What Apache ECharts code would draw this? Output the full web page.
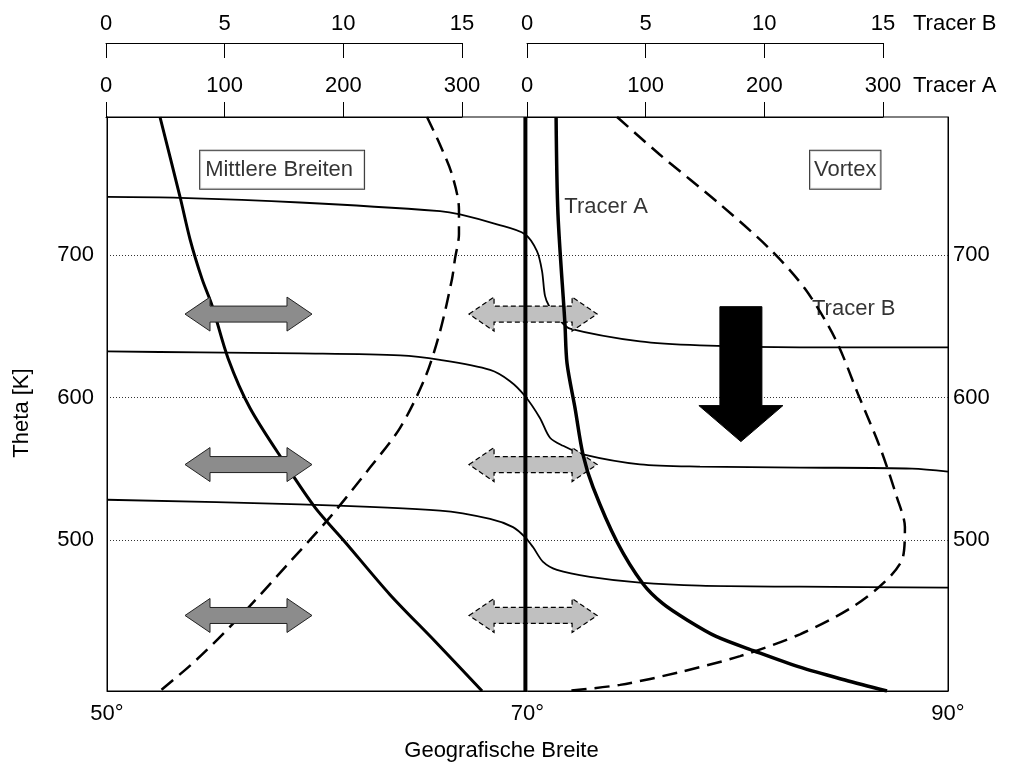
<!DOCTYPE html>
<html><head><meta charset="utf-8">
<script src="https://cdn.jsdelivr.net/npm/echarts@6/dist/echarts.min.js"></script>
<style>html,body{margin:0;padding:0;background:#fff}#c{width:1009px;height:767px}</style>
</head><body><div id="c"></div>
<script>
// ---- data ----
const latTicks = [50, 70, 90];
const thetaTicks = [500, 600, 700];
const thetaRange = [394.2, 797.0];
const tracerATicks = [0, 100, 200, 300];
const tracerBTicks = [0, 5, 10, 15];

// mid-latitude tracer A profile (thick solid)
const midTracerA = [[52.52,797.0],[53.47,741.2],[53.95,711.2],[54.52,683.4],[55.00,664.6],[55.76,627.6],[56.80,592.8],[58.47,553.8],[59.89,523.1],[61.32,498.8],[63.46,461.8],[65.60,429.1],[67.84,394.2]];
// mid-latitude tracer B profile (dashed)
const midTracerB = [[65.22,797.0],[65.84,777.5],[66.41,756.6],[66.74,732.2],[66.74,714.8],[66.55,697.4],[66.41,683.4],[65.84,646.5],[65.12,613.7],[63.94,578.9],[62.51,551.0],[60.61,516.2],[58.70,484.8],[56.33,446.5],[54.19,415.2],[52.52,394.2]];
// vortex edge
const vortexEdge = [[69.9,394.2],[69.9,797.0]];
// vortex tracer A profile (thick solid)
const vortexTracerA = [[71.36,797.0],[71.45,728.7],[71.78,652.1],[71.88,624.2],[72.26,592.8],[72.64,560.1],[73.12,537.1],[74.26,498.8],[75.49,469.5],[76.44,455.5],[77.63,443.7],[78.97,432.5],[80.82,422.1],[82.96,410.9],[85.10,401.9],[87.10,394.2]];
// vortex tracer B profile (dashed)
const vortexTracerB = [[74.26,797.0],[76.30,770.5],[79.16,735.7],[81.53,704.3],[83.20,676.4],[84.63,641.6],[85.72,602.6],[86.77,565.0],[87.57,530.1],[87.95,509.2],[87.86,488.3],[87.00,470.9],[85.34,452.1],[82.96,434.0],[80.11,418.7],[77.25,407.5],[74.40,398.5],[71.88,394.2]];
// isentropes
const isentropeUpper = [[50,740.9],[53.47,740.3],[59.18,737.0],[65.84,731.0],[66.79,728.7],[68.55,721.7],[69.88,714.8],[70.45,702.9],[70.69,689.0],[70.83,671.6],[71.02,664.6],[71.55,654.1],[72.02,648.5],[75.35,639.5],[78.20,636.7],[82.96,635.3],[90,635.3]];
const isentropeMiddle = [[50,632.5],[54.42,631.8],[59.18,631.1],[63.94,629.7],[65.84,626.5],[68.22,619.5],[69.17,611.6],[69.88,601.2],[70.59,585.8],[71.07,571.9],[71.69,566.3],[72.64,560.3],[75.35,553.3],[78.20,551.7],[82.96,551.0],[88.29,550.3],[90,548.2]];
const isentropeLower = [[50,528.4],[59.18,525.2],[65.84,520.8],[68.22,515.0],[69.31,509.2],[69.88,502.2],[70.26,495.2],[70.74,484.8],[71.40,479.2],[72.97,474.3],[75.35,470.2],[78.20,468.1],[82.96,467.4],[90,466.7]];
// mixing arrows: [lat left tip, lat right tip, theta]
const mixingMid = [[53.71,59.75,658.7],[53.71,59.75,553.1],[53.71,59.75,447.2]];
const mixingEdge = [[67.22,73.31,658.7],[67.22,73.31,553.1],[67.22,73.31,447.2]];
// descent arrow: [lat, theta top, theta tip]
const descent = [[80.15,663.9,569.2]];
// annotations: [lat, theta, text]
const boxLabels = [[54.43,760.0,'Mittlere Breiten'],[83.44,760.0,'Vortex']];
const curveLabels = [[71.75,733.6,'Tracer A'],[83.53,662.5,'Tracer B']];

// ---- chart ----
const FONT = "'Liberation Sans', Arial, sans-serif";
const FS = 22;
const chart = echarts.init(document.getElementById('c'));

function hArrow(style) {
  return function (params, api) {
    const p1 = api.coord([api.value(0), api.value(2)]);
    const p2 = api.coord([api.value(1), api.value(2)]);
    const y = p1[1], hl = 25, hh = 17, sh = 8;
    return {
      type: 'polygon',
      shape: { points: [[p1[0],y],[p1[0]+hl,y-hh],[p1[0]+hl,y-sh],[p2[0]-hl,y-sh],[p2[0]-hl,y-hh],[p2[0],y],[p2[0]-hl,y+hh],[p2[0]-hl,y+sh],[p1[0]+hl,y+sh],[p1[0]+hl,y+hh]] },
      style: style
    };
  };
}
function tracerAxis(gridIndex, ticks, pos, withName, name) {
  const ax = {
    gridIndex: gridIndex, type: 'value', position: pos,
    min: ticks[0], max: ticks[ticks.length - 1], interval: ticks[1] - ticks[0],
    axisLine: { show: true, onZero: false, lineStyle: { color: '#000', width: 1 } },
    axisTick: { show: true, inside: true, length: 15, lineStyle: { color: '#000', width: 1 } },
    axisLabel: { color: '#000', fontSize: FS, fontFamily: FONT, inside: pos === 'bottom', margin: pos === 'bottom' ? 20 : 8 },
    splitLine: { show: false }
  };
  if (withName) {
    ax.name = name;
    ax.nameLocation = 'end';
    ax.nameGap = 30;
    ax.nameTextStyle = { color: '#000', fontSize: FS, fontFamily: FONT, verticalAlign: 'bottom', align: 'left', padding: [0, 0, pos === 'bottom' ? 20 : 8, 0] };
  }
  return ax;
}
const lineBase = { type: 'line', showSymbol: false, symbol: 'none', smooth: 0.3, silent: true, animation: false, xAxisIndex: 0, yAxisIndex: 0 };
const boxPadding = [[7, 11, 7, 5], [7, 4, 7, 4]];

chart.setOption({
  animation: false,
  textStyle: { fontFamily: FONT, color: '#000' },
  grid: [
    { left: 107, right: 61, top: 117, bottom: 72, show: true, borderColor: '#000', borderWidth: 1, backgroundColor: 'transparent' },
    { left: 106, width: 356, top: 43, height: 74 },
    { left: 527, width: 356, top: 43, height: 74 }
  ],
  xAxis: [
    { gridIndex: 0, type: 'value', min: latTicks[0], max: latTicks[latTicks.length - 1], interval: latTicks[1] - latTicks[0],
      axisLine: { show: true, onZero: false, lineStyle: { color: '#000' } }, axisTick: { show: false }, splitLine: { show: false },
      axisLabel: { color: '#000', fontSize: FS, margin: 12, formatter: v => v + '°' },
      name: 'Geografische Breite', nameLocation: 'middle', nameGap: 49,
      nameTextStyle: { color: '#000', fontSize: FS, padding: [0, 52, 0, 0] } },
    tracerAxis(1, tracerBTicks, 'top', false),
    tracerAxis(1, tracerATicks, 'bottom', false),
    tracerAxis(2, tracerBTicks, 'top', true, 'Tracer B'),
    tracerAxis(2, tracerATicks, 'bottom', true, 'Tracer A')
  ],
  yAxis: [
    { gridIndex: 0, type: 'value', position: 'left', min: thetaRange[0], max: thetaRange[1],
      axisLine: { show: true, onZero: false, lineStyle: { color: '#000' } },
      axisTick: { show: false, customValues: thetaTicks },
      axisLabel: { color: '#000', fontSize: FS, margin: 13, customValues: thetaTicks },
      splitLine: { show: true, lineStyle: { color: '#333', type: [1, 2], width: 1 } },
      name: 'Theta [K]', nameLocation: 'middle', nameGap: 74, nameRotate: 90,
      nameTextStyle: { color: '#000', fontSize: FS, padding: [0, 18, 0, 0] } },
    { gridIndex: 0, type: 'value', position: 'right', min: thetaRange[0], max: thetaRange[1],
      axisLine: { show: true, onZero: false, lineStyle: { color: '#000' } },
      axisTick: { show: false, customValues: thetaTicks },
      axisLabel: { color: '#000', fontSize: FS, margin: 5, customValues: thetaTicks },
      splitLine: { show: false } },
    { gridIndex: 1, type: 'value', show: false, min: 0, max: 1 },
    { gridIndex: 2, type: 'value', show: false, min: 0, max: 1 }
  ],
  series: [
    Object.assign({}, lineBase, { data: isentropeUpper, z: 2, lineStyle: { color: '#000', width: 1.8 } }),
    Object.assign({}, lineBase, { data: isentropeMiddle, z: 2, lineStyle: { color: '#000', width: 1.8 } }),
    Object.assign({}, lineBase, { data: isentropeLower, z: 2, lineStyle: { color: '#000', width: 1.8 } }),
    Object.assign({}, lineBase, { data: midTracerB, z: 3, lineStyle: { color: '#000', width: 2.5, type: [15, 8] } }),
    Object.assign({}, lineBase, { data: vortexTracerB, z: 3, lineStyle: { color: '#000', width: 2.5, type: [15, 8] } }),
    { type: 'custom', xAxisIndex: 0, yAxisIndex: 0, z: 4, silent: true, data: mixingEdge, encode: { x: [0, 1], y: 2 },
      renderItem: hArrow({ fill: '#c0c0c0', stroke: '#000', lineWidth: 1.2, lineDash: [5, 3] }) },
    Object.assign({}, lineBase, { data: midTracerA, z: 5, lineStyle: { color: '#000', width: 3 } }),
    Object.assign({}, lineBase, { data: vortexTracerA, z: 5, lineStyle: { color: '#000', width: 3.5 } }),
    Object.assign({}, lineBase, { data: vortexEdge, smooth: false, z: 5, lineStyle: { color: '#000', width: 4 } }),
    { type: 'custom', xAxisIndex: 0, yAxisIndex: 0, z: 6, silent: true, data: mixingMid, encode: { x: [0, 1], y: 2 },
      renderItem: hArrow({ fill: '#8c8c8c', stroke: '#222', lineWidth: 1 }) },
    { type: 'custom', xAxisIndex: 0, yAxisIndex: 0, z: 6, silent: true, data: descent, encode: { x: 0, y: [1, 2] },
      renderItem: function (params, api) {
        const top = api.coord([api.value(0), api.value(1)]);
        const tip = api.coord([api.value(0), api.value(2)]);
        const x = top[0], sw = 21, hw = 42, hl = 36;
        return { type: 'polygon', shape: { points: [[x-sw,top[1]],[x+sw,top[1]],[x+sw,tip[1]-hl],[x+hw,tip[1]-hl],[x,tip[1]],[x-hw,tip[1]-hl],[x-sw,tip[1]-hl]] },
          style: { fill: '#000', stroke: '#000', lineWidth: 1 } };
      } },
    { type: 'scatter', xAxisIndex: 0, yAxisIndex: 0, z: 7, silent: true, symbolSize: 0,
      data: boxLabels.map((d, i) => ({ value: d, label: { padding: boxPadding[i] } })),
      label: { show: true, position: 'right', distance: 0, formatter: p => p.value[2], color: '#000', fontSize: FS, fontFamily: FONT,
        lineHeight: 24, borderColor: '#000', borderWidth: 1, backgroundColor: '#fff' } },
    { type: 'scatter', xAxisIndex: 0, yAxisIndex: 0, z: 7, silent: true, symbolSize: 0, data: curveLabels,
      label: { show: true, position: 'right', distance: 0, formatter: p => p.data[2], color: '#000', fontSize: FS, fontFamily: FONT } }
  ]
});
</script></body></html>
